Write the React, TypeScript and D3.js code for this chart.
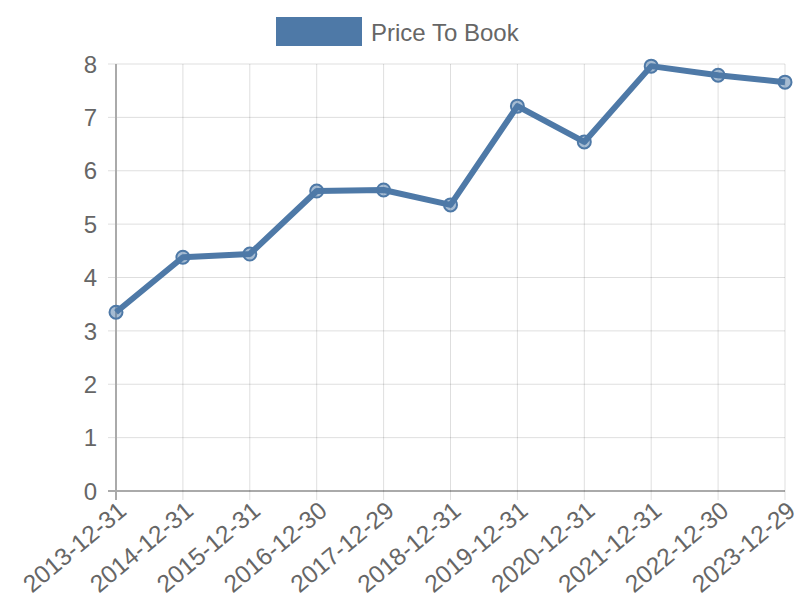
import React from "react";
import * as d3 from "d3";

const categories = ["2013-12-31","2014-12-31","2015-12-31","2016-12-30","2017-12-29","2018-12-31","2019-12-31","2020-12-31","2021-12-31","2022-12-30","2023-12-29"];
const values = [3.35, 4.38, 4.44, 5.62, 5.64, 5.36, 7.21, 6.54, 7.96, 7.79, 7.66];
const yTicks = [0, 1, 2, 3, 4, 5, 6, 7, 8];
const seriesName = "Price To Book";

export default function App() {
  const W = 800, H = 600;
  const left = 116, right = 785, top = 64, bottom = 491;
  const x = d3.scalePoint<string>().domain(categories).range([left, right]);
  const y = d3.scaleLinear().domain([0, 8]).range([bottom, top]);
  const line = d3.line<number>().x((_, i) => x(categories[i])!).y(d => y(d));
  const color = "#4e79a7";
  const font = "'Liberation Sans', Arial, sans-serif";
  return (
    <svg width={W} height={H} style={{ position: "absolute", left: 0, top: 0 }} fontFamily={font}>
      <rect width={W} height={H} fill="#fff" />
      {yTicks.map(t => (
        <g key={t}>
          <line x1={108} x2={right} y1={y(t)} y2={y(t)} stroke={t === 0 ? "#aaa" : "rgba(0,0,0,0.13)"} strokeWidth={t === 0 ? 2 : 1} />
          <text x={97} y={y(t)} dy="0.36em" textAnchor="end" fontSize={24} fill="#666">{t}</text>
        </g>
      ))}
      {categories.map((c, i) => (
        <g key={c}>
          <line x1={x(c)} x2={x(c)} y1={top} y2={bottom + 9} stroke={i === 0 ? "#aaa" : "rgba(0,0,0,0.13)"} strokeWidth={i === 0 ? 2 : 1} />
          <text transform={`translate(${x(c)! + 1},${bottom + 9}) rotate(-40)`} textAnchor="end" dy="0.7em" fontSize={24.5} fill="#666">{c}</text>
        </g>
      ))}
      <path d={line(values)!} fill="none" stroke={color} strokeWidth={6} strokeLinejoin="round" />
      {values.map((v, i) => (
        <circle key={i} cx={x(categories[i])} cy={y(v)} r={6.5} fill="rgba(78,121,167,0.5)" stroke={color} strokeWidth={2} />
      ))}
      <rect x={276} y={17} width={86} height={29} fill={color} />
      <text x={371} y={32} dy="0.36em" fontSize={24} fill="#666">{seriesName}</text>
    </svg>
  );
}
